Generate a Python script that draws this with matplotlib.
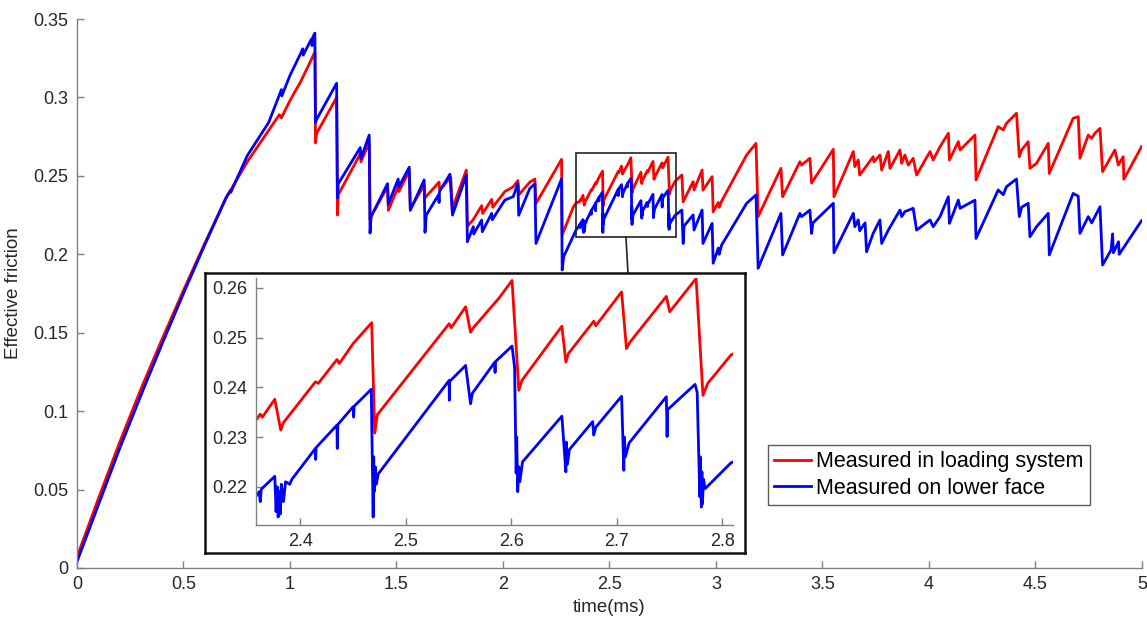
import matplotlib
matplotlib.use("Agg")
import matplotlib.pyplot as plt
from matplotlib.patches import Rectangle, ConnectionPatch

plt.rcParams['font.family'] = ['Liberation Sans', 'DejaVu Sans']

# loading-system friction (red)
t_red = [0.0, 0.1, 0.2, 0.3, 0.4, 0.5, 0.6, 0.7, 0.8, 0.9, 0.95, 0.96, 1.0, 1.05, 1.1, 1.117,
         1.120, 1.125, 1.219, 1.223, 1.227, 1.330, 1.333, 1.372, 1.376, 1.380, 1.458, 1.462,
         1.508, 1.511, 1.560, 1.565, 1.630, 1.634, 1.700, 1.703, 1.755, 1.762, 1.828, 1.833,
         1.860, 1.900, 1.905, 1.947, 1.952, 2.009, 2.048, 2.070, 2.075, 2.126, 2.150, 2.155,
         2.275, 2.278, 2.330, 2.345,
         2.358, 2.362, 2.364, 2.3758, 2.3814, 2.384, 2.4143, 2.417, 2.4347, 2.437, 2.450,
         2.4676, 2.4705, 2.473, 2.541, 2.543, 2.5566, 2.5613, 2.564, 2.588, 2.6006, 2.607,
         2.610, 2.6478, 2.6516, 2.654, 2.678, 2.680, 2.7044, 2.709, 2.712, 2.7468, 2.750,
         2.775, 2.7815, 2.786, 2.808,
         2.840, 2.846, 2.893, 2.897, 2.935, 2.939, 2.982, 2.987, 3.011, 3.015, 3.027, 3.144,
         3.188, 3.198, 3.305, 3.313, 3.394, 3.402, 3.441, 3.449, 3.551, 3.554, 3.645, 3.652,
         3.668, 3.675, 3.738, 3.742, 3.770, 3.778, 3.809, 3.817, 3.864, 3.872, 3.887, 3.903,
         3.926, 3.942, 4.005, 4.020, 4.052, 4.091, 4.096, 4.138, 4.146, 4.216, 4.221, 4.325,
         4.349, 4.364, 4.411, 4.424, 4.435, 4.466, 4.474, 4.505, 4.560, 4.565, 4.677, 4.701,
         4.709, 4.748, 4.764, 4.779, 4.803, 4.815, 4.873, 4.889, 4.912, 4.915, 4.998]
f_red = [0.007, 0.044, 0.080, 0.114, 0.146, 0.177, 0.207, 0.236, 0.259, 0.279, 0.289, 0.287, 0.298, 0.310, 0.324, 0.329,
         0.271, 0.277, 0.300, 0.225, 0.238, 0.264, 0.259, 0.271, 0.222, 0.224, 0.243, 0.228,
         0.243, 0.240, 0.253, 0.229, 0.244, 0.236, 0.246, 0.241, 0.249, 0.229, 0.2537, 0.218,
         0.222, 0.231, 0.226, 0.235, 0.230, 0.240, 0.243, 0.247, 0.238, 0.246, 0.248, 0.2324,
         0.2605, 0.2123, 0.2300, 0.2330,
         0.2334, 0.2346, 0.2340, 0.2376, 0.2314, 0.2329, 0.2411, 0.2408, 0.2456, 0.2448, 0.2488,
         0.2530, 0.2308, 0.2345, 0.2528, 0.2520, 0.2562, 0.2511, 0.2520, 0.2579, 0.2615, 0.2394,
         0.2414, 0.2523, 0.2451, 0.2468, 0.2533, 0.2524, 0.2592, 0.2478, 0.2490, 0.2583, 0.2552,
         0.2619, 0.2384, 0.2408, 0.2465,
         0.2505, 0.2335, 0.2463, 0.2410, 0.2537, 0.2409, 0.2495, 0.2271, 0.2330, 0.2300, 0.2340, 0.2633,
         0.2707, 0.2240, 0.2548, 0.2367, 0.2590, 0.2569, 0.2612, 0.2454, 0.2669, 0.2367, 0.2655, 0.2559,
         0.2601, 0.2505, 0.2622, 0.2590, 0.2633, 0.2537, 0.2655, 0.2548, 0.2665, 0.2580, 0.2633, 0.2569,
         0.2612, 0.2505, 0.2655, 0.2601, 0.2686, 0.2771, 0.2601, 0.2718, 0.2665, 0.2760, 0.2474, 0.2814,
         0.2793, 0.2835, 0.2899, 0.2622, 0.2665, 0.2718, 0.2548, 0.2580, 0.2707, 0.2516, 0.2867, 0.2877,
         0.2612, 0.2760, 0.2739, 0.2771, 0.2803, 0.2527, 0.2665, 0.2569, 0.2622, 0.2478, 0.2686]

# lower-face friction (blue)
t_blue = [0.0, 0.1, 0.2, 0.3, 0.4, 0.5, 0.6, 0.7, 0.72, 0.722, 0.8, 0.9, 0.96, 0.962, 1.0, 1.05, 1.06, 1.062,
          1.1, 1.104, 1.106, 1.117,
          1.120, 1.125, 1.219, 1.223, 1.227, 1.330, 1.333, 1.372, 1.376, 1.381, 1.458, 1.462,
          1.508, 1.511, 1.560, 1.565, 1.630, 1.634, 1.640, 1.698, 1.700, 1.702, 1.751, 1.763,
          1.828, 1.833, 1.861, 1.863, 1.900, 1.903, 1.947, 1.950, 2.009, 2.048, 2.070, 2.074,
          2.126, 2.150, 2.155, 2.275, 2.278, 2.285, 2.345,
          2.358, 2.361, 2.362, 2.363, 2.3758, 2.377, 2.378, 2.379, 2.380, 2.381, 2.382, 2.384,
          2.386, 2.390, 2.392, 2.4143, 2.4145, 2.415, 2.4347, 2.435, 2.4355, 2.450, 2.4505, 2.451,
          2.4672, 2.469, 2.4695, 2.470, 2.471, 2.472, 2.4739, 2.541, 2.5412, 2.5415, 2.5566, 2.5613,
          2.563, 2.584, 2.5845, 2.585, 2.6006, 2.603, 2.6045, 2.605, 2.606, 2.607, 2.608, 2.6105,
          2.6478, 2.6516, 2.652, 2.653, 2.655, 2.677, 2.678, 2.680, 2.7044, 2.7065, 2.707, 2.708,
          2.7115, 2.7468, 2.7475, 2.748, 2.774, 2.776, 2.7785, 2.779, 2.780, 2.7805, 2.781, 2.782,
          2.7835, 2.808,
          2.840, 2.846, 2.850, 2.893, 2.897, 2.935, 2.939, 2.982, 2.987, 3.011, 3.015, 3.027, 3.144,
          3.188, 3.198, 3.305, 3.313, 3.394, 3.402, 3.441, 3.449, 3.455, 3.551, 3.554, 3.645, 3.652,
          3.668, 3.675, 3.700, 3.707, 3.738, 3.770, 3.778, 3.809, 3.864, 3.872, 3.887, 3.926, 3.942,
          4.005, 4.020, 4.052, 4.091, 4.096, 4.138, 4.146, 4.216, 4.221, 4.325, 4.349, 4.364, 4.411,
          4.424, 4.435, 4.466, 4.474, 4.505, 4.560, 4.565, 4.677, 4.701, 4.709, 4.748, 4.764, 4.803,
          4.815, 4.855, 4.862, 4.866, 4.890, 4.893, 4.998]
f_blue = [0.004, 0.040, 0.076, 0.110, 0.143, 0.175, 0.206, 0.236, 0.2405, 0.2395, 0.263, 0.284, 0.305, 0.301, 0.314, 0.328, 0.331, 0.327,
          0.337, 0.333, 0.338, 0.341,
          0.284, 0.286, 0.309, 0.236, 0.245, 0.268, 0.261, 0.276, 0.2135, 0.224, 0.245, 0.232,
          0.248, 0.243, 0.2555, 0.228, 0.2474, 0.214, 0.225, 0.238, 0.233, 0.240, 0.251, 0.225,
          0.2505, 0.208, 0.2176, 0.2130, 0.2218, 0.2144, 0.2261, 0.2220, 0.2346, 0.2367, 0.2452, 0.2249,
          0.2420, 0.2450, 0.2069, 0.2480, 0.1900, 0.1985, 0.2160,
          0.2181, 0.2190, 0.2170, 0.2195, 0.2221, 0.2150, 0.2200, 0.2139, 0.2190, 0.2145, 0.2205, 0.2170,
          0.2210, 0.2205, 0.2215, 0.2277, 0.2255, 0.2279, 0.2324, 0.2277, 0.2325, 0.2361, 0.2340, 0.2362,
          0.2396, 0.2139, 0.2260, 0.2190, 0.2240, 0.2205, 0.2226, 0.2414, 0.2374, 0.2412, 0.2444, 0.2367,
          0.2388, 0.2450, 0.2430, 0.2452, 0.2483, 0.2440, 0.2227, 0.2300, 0.2190, 0.2240, 0.2210, 0.2250,
          0.2342, 0.2230, 0.2290, 0.2245, 0.2275, 0.2331, 0.2304, 0.2320, 0.2382, 0.2233, 0.2300, 0.2260,
          0.2288, 0.2381, 0.2301, 0.2355, 0.2406, 0.2390, 0.2180, 0.2260, 0.2159, 0.2230, 0.2165, 0.2215,
          0.2196, 0.2248,
          0.2282, 0.2069, 0.2180, 0.2251, 0.2155, 0.2282, 0.2069, 0.2197, 0.1943, 0.2040, 0.2000, 0.2060, 0.2325,
          0.2378, 0.1911, 0.2261, 0.1996, 0.2261, 0.2240, 0.2282, 0.2133, 0.2200, 0.2325, 0.2010, 0.2261, 0.2176,
          0.2219, 0.2150, 0.2200, 0.2016, 0.2133, 0.2219, 0.2069, 0.2154, 0.2282, 0.2240, 0.2272, 0.2293, 0.2154,
          0.2219, 0.2176, 0.2240, 0.2367, 0.2197, 0.2346, 0.2293, 0.2345, 0.2101, 0.2410, 0.2380, 0.2431, 0.2480,
          0.2240, 0.2300, 0.2325, 0.2112, 0.2176, 0.2261, 0.1996, 0.2388, 0.2370, 0.2133, 0.2240, 0.2200, 0.2303,
          0.1932, 0.2027, 0.2130, 0.2010, 0.2080, 0.2000, 0.2214]

labels = ['Measured in loading system', 'Measured on lower face']
x_ticks = [0, 0.5, 1, 1.5, 2, 2.5, 3, 3.5, 4, 4.5, 5]
x_ticklabels = ['0', '0.5', '1', '1.5', '2', '2.5', '3', '3.5', '4', '4.5', '5']
y_ticks = [0, 0.05, 0.1, 0.15, 0.2, 0.25, 0.3, 0.35]
y_ticklabels = ['0', '0.05', '0.1', '0.15', '0.2', '0.25', '0.3', '0.35']
in_x_ticks = [2.4, 2.5, 2.6, 2.7, 2.8]
in_y_ticks = [0.22, 0.23, 0.24, 0.25, 0.26]
in_xlim = (2.358, 2.81)
in_ylim = (0.2123, 0.262)
box_t = (2.343, 2.812)
box_f = (0.211, 0.2646)

spine_c = '#808080'
text_c = '#262626'


def style(ax, fs):
    for s in ['top', 'right']:
        ax.spines[s].set_visible(False)
    for s in ['left', 'bottom']:
        ax.spines[s].set_color(spine_c)
        ax.spines[s].set_linewidth(1.0)
    ax.tick_params(direction='in', length=5, width=1.0, color=spine_c,
                   labelcolor=text_c, labelsize=fs, pad=6)


fig = plt.figure(figsize=(11.47, 6.25), dpi=100)
ax = fig.add_axes([0.0671, 0.0912, 0.9285, 0.8784])
ax.plot(t_red, f_red, color='#ff0000', lw=2.0, label=labels[0])
ax.plot(t_blue, f_blue, color='#0000ff', lw=2.0, label=labels[1])
ax.set_xlim(0, 5)
ax.set_ylim(0, 0.35)
ax.set_xticks(x_ticks)
ax.set_xticklabels(x_ticklabels)
ax.set_yticks(y_ticks)
ax.set_yticklabels(y_ticklabels)
style(ax, 13)
ax.set_xlabel('time(ms)', fontsize=13.5, color=text_c, labelpad=4)
ax.set_ylabel('Effective friction', fontsize=13.5, color=text_c, labelpad=8)

# zoom box in main axes
ax.add_patch(Rectangle((box_t[0], box_f[0]), box_t[1] - box_t[0], box_f[1] - box_f[0],
                       fill=False, ec='#222222', lw=1.2, zorder=5))

leg = ax.legend(loc='lower left', bbox_to_anchor=(0.6696, 0.192), bbox_transform=fig.transFigure,
                fontsize=15.5, frameon=True, fancybox=False, edgecolor='#333333',
                handlelength=1.7, handletextpad=0.25, borderpad=0.3, labelspacing=0.25,
                borderaxespad=0)
leg.get_frame().set_linewidth(1.0)
for txt in leg.get_texts():
    txt.set_color('#000000')

# frame around inset
frame = fig.add_axes([0.1787, 0.1152, 0.4708, 0.448], zorder=2)
frame.set_xticks([])
frame.set_yticks([])
for s in frame.spines.values():
    s.set_color('#111111')
    s.set_linewidth(1.8)

axin = fig.add_axes([0.2232, 0.16, 0.4159, 0.3952], zorder=3)
axin.plot(t_red, f_red, color='#ff0000', lw=2.0)
axin.plot(t_blue, f_blue, color='#0000ff', lw=2.0)
axin.set_xlim(*in_xlim)
axin.set_ylim(*in_ylim)
axin.set_xticks(in_x_ticks)
axin.set_xticklabels([f'{v:g}' for v in in_x_ticks])
axin.set_yticks(in_y_ticks)
axin.set_yticklabels([f'{v:g}' for v in in_y_ticks])
style(axin, 13)

con = ConnectionPatch(xyA=((box_t[0] + box_t[1]) / 2, box_f[0]), coordsA=ax.transData,
                      xyB=(0.5475, 0.5632), coordsB=fig.transFigure,
                      color='#222222', lw=1.2)
fig.add_artist(con)

fig.savefig('out.png', dpi=100)
